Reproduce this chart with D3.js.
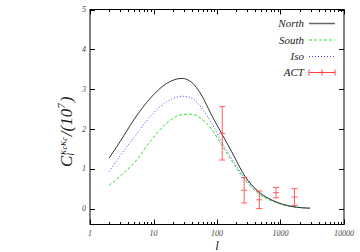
<!DOCTYPE html>
<html>
<head>
<meta charset="utf-8">
<script src="https://cdn.jsdelivr.net/npm/d3@7"></script>
<style>
  body { margin: 0; background: #fff; }
  svg { display: block; }
  text { font-family: "Liberation Serif", "DejaVu Serif", serif; font-style: italic; }
</style>
</head>
<body>
<svg></svg>
<script>
// multipoles and the three model curves
let ells  = [2, 3, 5, 9, 16, 28, 40, 57, 82, 118, 170, 276, 447, 819, 1690, 2900]
let north = [1.27, 1.69, 2.25, 2.78, 3.14, 3.27, 3.17, 2.85, 2.35, 1.89, 1.43, 0.81, 0.43, 0.18, 0.04, 0.01]
let south = [0.58, 0.82, 1.15, 1.70, 2.14, 2.36, 2.37, 2.25, 2.00, 1.60, 1.20, 0.72, 0.38, 0.16, 0.04, 0.01]
let iso   = [0.93, 1.33, 1.80, 2.32, 2.68, 2.82, 2.78, 2.53, 2.15, 1.68, 1.26, 0.76, 0.41, 0.17, 0.04, 0.01]

// ACT band powers
let actL   = [121, 268, 464, 851, 1660]
let actVal = [1.89, 0.46, 0.22, 0.40, 0.29]
let actErr = [0.67, 0.32, 0.22, 0.13, 0.21]

let xTicks = [1, 10, 100, 1000, 10000]
let yTicks = [0, 1, 2, 3, 4, 5]

let width = 360
let height = 252
let pLeft = 90, pRight = 344, pTop = 9.5, pBottom = 224.5

let svg = d3.select('svg').attr('width', width).attr('height', height)

let xScale = d3.scaleLog().domain([1, 10000]).range([pLeft, pRight])
let yScale = d3.scaleLinear().domain([-0.4, 5]).range([pBottom, pTop])

// ticks on all four sides
let minor = []
for (let d = 1; d < 10000; d *= 10) {
    for (let k = 2; k <= 9; k++) minor.push(d * k)
}

let tickG = svg.append('g').attr('stroke', '#000').attr('stroke-width', 1)
xTicks.forEach(t => {
    let x = Math.round(xScale(t)) + 0.5
    tickG.append('line').attr('x1', x).attr('x2', x).attr('y1', pBottom).attr('y2', pBottom - 5)
    tickG.append('line').attr('x1', x).attr('x2', x).attr('y1', pTop).attr('y2', pTop + 5)
})
minor.forEach(t => {
    let x = Math.round(xScale(t)) + 0.5
    tickG.append('line').attr('x1', x).attr('x2', x).attr('y1', pBottom).attr('y2', pBottom - 2.5)
    tickG.append('line').attr('x1', x).attr('x2', x).attr('y1', pTop).attr('y2', pTop + 2.5)
})
yTicks.forEach(t => {
    let y = Math.round(yScale(t)) + 0.5
    tickG.append('line').attr('x1', pLeft).attr('x2', pLeft + 5).attr('y1', y).attr('y2', y)
    tickG.append('line').attr('x1', pRight).attr('x2', pRight - 5).attr('y1', y).attr('y2', y)
})

// border (left/right edges fall between pixels, like the original)
svg.append('rect')
    .attr('x', pLeft).attr('y', pTop)
    .attr('width', pRight - pLeft).attr('height', pBottom - pTop)
    .attr('fill', 'none').attr('stroke', '#000').attr('stroke-width', 1)

// tick labels
svg.append('g').selectAll('text')
    .data(xTicks).enter().append('text')
    .attr('x', d => xScale(d)).attr('y', 236)
    .attr('text-anchor', 'middle').attr('font-size', 8).attr('fill', '#444')
    .text(d => d)

svg.append('g').selectAll('text')
    .data(yTicks).enter().append('text')
    .attr('x', 86).attr('y', d => yScale(d)).attr('dy', '0.33em')
    .attr('text-anchor', 'end').attr('font-size', 8).attr('fill', '#444')
    .text(d => d)

// axis titles
svg.append('text').attr('x', 217).attr('y', 250)
    .attr('text-anchor', 'middle').attr('font-size', 13).attr('fill', '#222').text('l')

let yl = svg.append('text')
    .attr('transform', 'translate(72,167) rotate(-90)')
    .attr('font-size', 17).attr('fill', '#222')
yl.append('tspan').text('C')
yl.append('tspan').attr('font-size', 10).attr('dy', 2).text('l')
yl.append('tspan').attr('font-size', 11).attr('dx', -2).attr('dy', -8.5).text('κ')
yl.append('tspan').attr('font-size', 8).attr('dy', 1.5).text('c')
yl.append('tspan').attr('font-size', 11).attr('dy', -1.5).text('κ')
yl.append('tspan').attr('font-size', 8).attr('dy', 1.5).text('c')
yl.append('tspan').attr('dx', 1).attr('dy', 5).text('/(10')
yl.append('tspan').attr('font-size', 11).attr('dy', -7).text('7')
yl.append('tspan').attr('dx', 1).attr('dy', 7).text(')')

// model curves
let line = d3.line()
    .x((d, i) => xScale(ells[i]))
    .y(d => yScale(d))
    .curve(d3.curveMonotoneX)

let series = [
    { name: 'North', values: north, color: '#333', dash: null },
    { name: 'South', values: south, color: '#33dd33', dash: '3,2' },
    { name: 'Iso', values: iso, color: '#4444ff', dash: '1,2' }
]

series.slice().reverse().forEach(s => {
    svg.append('path')
        .attr('d', line(s.values))
        .attr('fill', 'none')
        .attr('stroke', s.color)
        .attr('stroke-width', 1)
        .attr('stroke-dasharray', s.dash)
})

// ACT error bars
let act = svg.append('g').attr('stroke', '#ff4040').attr('stroke-width', 1).attr('opacity', 0.85)
actL.forEach((l, i) => {
    let x = xScale(l)
    let y0 = yScale(actVal[i] - actErr[i])
    let y1 = yScale(actVal[i] + actErr[i])
    let yc = yScale(actVal[i])
    act.append('line').attr('x1', x).attr('x2', x).attr('y1', y0).attr('y2', y1)
    act.append('line').attr('x1', x - 3).attr('x2', x + 3).attr('y1', y0).attr('y2', y0)
    act.append('line').attr('x1', x - 3).attr('x2', x + 3).attr('y1', y1).attr('y2', y1)
    act.append('line').attr('x1', x - 3).attr('x2', x + 3).attr('y1', yc).attr('y2', yc)
})

// legend
let legendY = [23.5, 40, 56.5, 72.5]
let legend = svg.append('g')
series.concat([{ name: 'ACT', color: '#ff4040' }]).forEach((s, i) => {
    let y = legendY[i]
    legend.append('text')
        .attr('x', 304).attr('y', y).attr('dy', '0.33em')
        .attr('text-anchor', 'end').attr('font-size', 11).attr('fill', '#222')
        .text(s.name)
    legend.append('line')
        .attr('x1', 309).attr('x2', 335).attr('y1', y).attr('y2', y)
        .attr('stroke', s.name == 'North' ? '#666' : s.color)
        .attr('stroke-width', s.name == 'North' ? 1.5 : 1)
        .attr('stroke-dasharray', s.dash || null)
    if (s.name == 'ACT') {
        [309, 322, 335].forEach(x => {
            legend.append('line')
                .attr('x1', x).attr('x2', x).attr('y1', y - 3).attr('y2', y + 3)
                .attr('stroke', s.color)
        })
    }
})
</script>
</body>
</html>
